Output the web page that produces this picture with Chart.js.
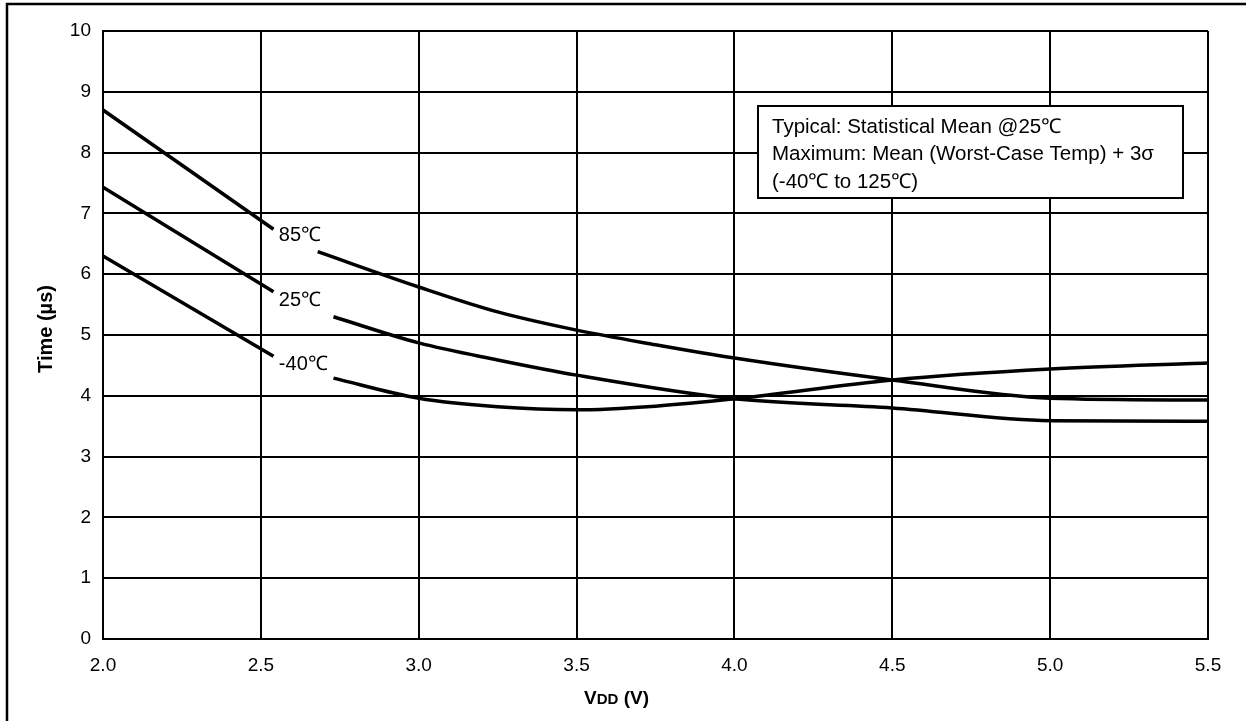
<!DOCTYPE html>
<html>
<head>
<meta charset="utf-8">
<script src="https://cdn.jsdelivr.net/npm/chart.js@4.4.0/dist/chart.umd.min.js"></script>
<style>
  html, body { margin: 0; padding: 0; background: #fff; }
  #wrap { width: 1246px; height: 721px; position: relative; }
</style>
</head>
<body>
<div id="wrap"><canvas id="grafico"></canvas></div>
<script>
// Datos (VDD en V, tiempo en µs). null = hueco para la etiqueta.
const vdd85 = [2.0, 2.54, 2.6, 2.68, 3.0, 3.25, 3.5, 3.75, 4.0, 4.5, 5.0, 5.5];
const time85 = [8.70, 6.74, null, 6.37, 5.79, 5.38, 5.08, 4.84, 4.62, 4.26, 3.96, 3.93];

const vdd25 = [2.0, 2.54, 2.6, 2.73, 3.0, 3.25, 3.5, 4.0, 4.5, 5.0, 5.5];
const time25 = [7.43, 5.71, null, 5.30, 4.87, 4.59, 4.34, 3.95, 3.80, 3.59, 3.58];

const vddM40 = [2.0, 2.54, 2.6, 2.73, 3.0, 3.25, 3.5, 3.75, 4.0, 4.5, 5.0, 5.5];
const timeM40 = [6.30, 4.65, null, 4.29, 3.96, 3.82, 3.77, 3.83, 3.95, 4.26, 4.44, 4.54];

const xTicks = [2.0, 2.5, 3.0, 3.5, 4.0, 4.5, 5.0, 5.5];
const yTicks = [0, 1, 2, 3, 4, 5, 6, 7, 8, 9, 10];

// Etiquetas sobre las curvas (en coordenadas de datos)
const curveLabels = [
    { text: '85\u2103', x: 2.557, y: 6.64 },
    { text: '25\u2103', x: 2.557, y: 5.56 },
    { text: '-40\u2103', x: 2.557, y: 4.51 }
];

const noteLines = [
    'Typical: Statistical Mean @25\u2103',
    'Maximum: Mean (Worst-Case Temp) + 3\u03c3',
    '(-40\u2103 to 125\u2103)'
];

const FONT = '"Liberation Sans", Arial, sans-serif';

function toPoints(xs, ys) {
    return xs.map((x, i) => ({ x: x, y: ys[i] }));
}

function serie(label, xs, ys) {
    return {
        label: label,
        data: toPoints(xs, ys),
        borderColor: '#000',
        borderWidth: 3.5,
        pointRadius: 0,
        fill: false,
        spanGaps: false,
        cubicInterpolationMode: 'monotone'
    };
}

// Dibuja marco exterior, títulos de ejes, etiquetas de curvas y el cuadro de notas
const decoraciones = {
    id: 'decoraciones',
    afterDraw(chart) {
        const ctx = chart.ctx;
        const area = chart.chartArea;
        const xs = chart.scales.x;
        const ys = chart.scales.y;
        ctx.save();

        // marco exterior (solo arriba e izquierda)
        ctx.strokeStyle = '#000';
        ctx.lineWidth = 2.5;
        ctx.beginPath();
        ctx.moveTo(1246, 4);
        ctx.lineTo(7, 4);
        ctx.lineTo(7, 721);
        ctx.stroke();

        // etiquetas de curvas
        ctx.fillStyle = '#000';
        ctx.font = '20px ' + FONT;
        ctx.textBaseline = 'middle';
        ctx.textAlign = 'left';
        curveLabels.forEach(l => {
            ctx.fillText(l.text, xs.getPixelForValue(l.x), ys.getPixelForValue(l.y));
        });

        // cuadro de notas
        const bx = area.left + 655, by = area.top + 75, bw = 425, bh = 92;
        ctx.fillStyle = '#fff';
        ctx.fillRect(bx, by, bw, bh);
        ctx.lineWidth = 2;
        ctx.strokeRect(bx, by, bw, bh);
        ctx.fillStyle = '#000';
        ctx.font = '20.5px ' + FONT;
        noteLines.forEach((t, i) => {
            ctx.fillText(t, bx + 14, by + 21 + i * 27.5);
        });

        // título eje Y
        ctx.font = 'bold 20px ' + FONT;
        ctx.textAlign = 'center';
        ctx.save();
        ctx.translate(46, (area.top + area.bottom) / 2 - 6);
        ctx.rotate(-Math.PI / 2);
        ctx.fillText('Time (\u00b5s)', 0, 0);
        ctx.restore();

        // título eje X: V + DD (pequeño) + (V)
        const partes = [
            { t: 'V', f: 'bold 19px ' + FONT },
            { t: 'DD', f: 'bold 15px ' + FONT },
            { t: ' (V)', f: 'bold 19px ' + FONT }
        ];
        let total = 0;
        partes.forEach(p => { ctx.font = p.f; p.w = ctx.measureText(p.t).width; total += p.w; });
        let cx = area.left + (area.right - area.left) / 2 - 39 - total / 2;
        const cy = 697;
        ctx.textAlign = 'left';
        ctx.textBaseline = 'alphabetic';
        partes.forEach(p => {
            ctx.font = p.f;
            ctx.fillText(p.t, cx, cy + 7);
            cx += p.w;
        });

        ctx.restore();
    }
};

const ctx = document.getElementById('grafico').getContext('2d');
new Chart(ctx, {
    type: 'line',
    data: {
        datasets: [
            serie('85\u2103', vdd85, time85),
            serie('25\u2103', vdd25, time25),
            serie('-40\u2103', vddM40, timeM40)
        ]
    },
    options: {
        responsive: true,
        maintainAspectRatio: false,
        animation: false,
        layout: {
            padding: { left: 0, top: 31, right: 38, bottom: 0 }
        },
        scales: {
            x: {
                type: 'linear',
                min: 2.0,
                max: 5.5,
                afterBuildTicks: s => { s.ticks = xTicks.map(v => ({ value: v })); },
                afterFit: s => { s.height = 82; },
                grid: { color: '#000', lineWidth: 2, drawTicks: false },
                border: { color: '#000', width: 2 },
                ticks: {
                    color: '#000',
                    padding: 15,
                    font: { size: 19, family: FONT },
                    callback: v => Number(v).toFixed(1)
                }
            },
            y: {
                min: 0,
                max: 10,
                afterBuildTicks: s => { s.ticks = yTicks.map(v => ({ value: v })); },
                afterFit: s => { s.width = 103; },
                grid: { color: '#000', lineWidth: 2, drawTicks: false },
                border: { color: '#000', width: 2 },
                ticks: {
                    color: '#000',
                    padding: 12,
                    font: { size: 19, family: FONT }
                }
            }
        },
        plugins: {
            legend: { display: false },
            tooltip: { enabled: false },
            title: { display: false }
        }
    },
    plugins: [decoraciones]
});
</script>
</body>
</html>
